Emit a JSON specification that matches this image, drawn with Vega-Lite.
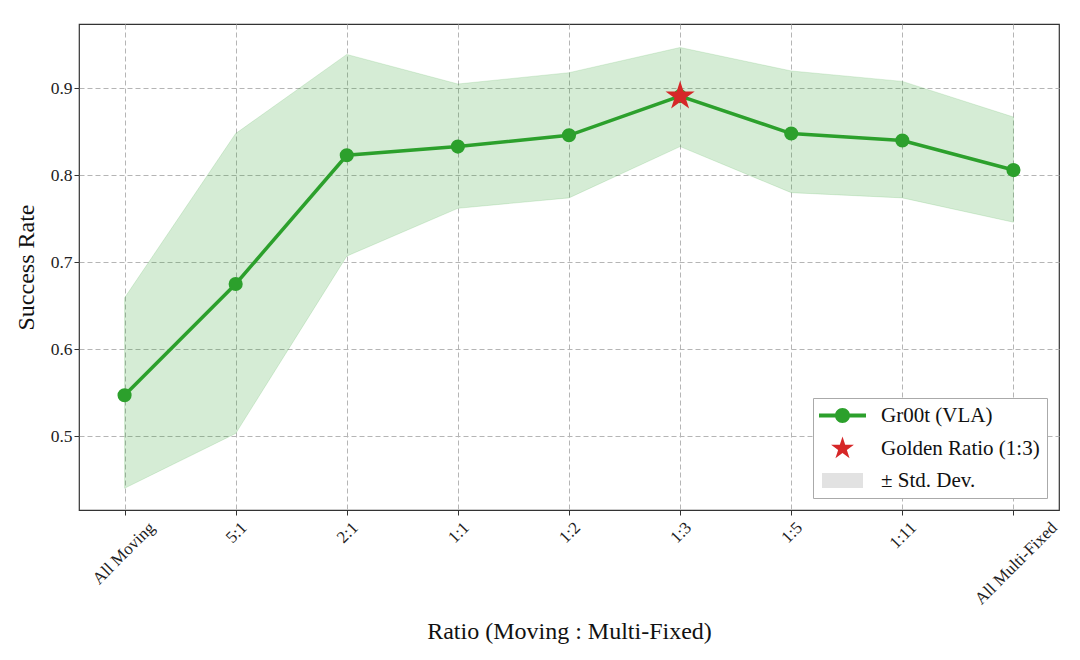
{
  "$schema": "https://vega.github.io/schema/vega-lite/v6.json",
  "autosize": "none",
  "width": 980,
  "height": 486,
  "padding": {"left": 79, "top": 24, "right": 21, "bottom": 150},
  "background": "white",
  "data": {
    "values": [
      {"ratio": "All Moving", "mean": 0.547, "lower": 0.44, "upper": 0.659, "golden": false},
      {"ratio": "5:1", "mean": 0.675, "lower": 0.503, "upper": 0.848, "golden": false},
      {"ratio": "2:1", "mean": 0.823, "lower": 0.707, "upper": 0.939, "golden": false},
      {"ratio": "1:1", "mean": 0.833, "lower": 0.762, "upper": 0.905, "golden": false},
      {"ratio": "1:2", "mean": 0.846, "lower": 0.774, "upper": 0.918, "golden": false},
      {"ratio": "1:3", "mean": 0.891, "lower": 0.833, "upper": 0.947, "golden": true},
      {"ratio": "1:5", "mean": 0.848, "lower": 0.78, "upper": 0.92, "golden": false},
      {"ratio": "1:11", "mean": 0.84, "lower": 0.774, "upper": 0.908, "golden": false},
      {"ratio": "All Multi-Fixed", "mean": 0.806, "lower": 0.746, "upper": 0.867, "golden": false}
    ]
  },
  "encoding": {
    "x": {
      "field": "ratio",
      "type": "ordinal",
      "sort": null,
      "scale": {"type": "point", "padding": 0.41},
      "axis": {
        "title": "Ratio (Moving : Multi-Fixed)",
        "titleY": 121,
        "titleBaseline": "middle",
        "labelAngle": -45,
        "labelAlign": "right",
        "labelBaseline": "top",
        "labelPadding": 4,
        "labelFontSize": 17,
        "labelOffset": {"expr": "0.354*(length(datum.label)*7.65 - 16)"}
      }
    },
    "y": {
      "field": "mean",
      "type": "quantitative",
      "scale": {"domain": [0.415, 0.974], "nice": false, "zero": false},
      "axis": {
        "title": "Success Rate",
        "values": [0.5, 0.6, 0.7, 0.8, 0.9],
        "format": ".1f",
        "titleX": -53,
        "titleBaseline": "middle",
        "labelFontSize": 17.5
      }
    }
  },
  "layer": [
    {
      "mark": {"type": "area", "color": "#2ca02c", "fillOpacity": 0.2, "stroke": "#2ca02c", "strokeOpacity": 0.15, "strokeWidth": 1},
      "encoding": {
        "y": {"field": "lower", "type": "quantitative"},
        "y2": {"field": "upper"}
      }
    },
    {
      "mark": {"type": "line", "strokeWidth": 3.5},
      "encoding": {
        "color": {
          "datum": "Gr00t (VLA)",
          "scale": {
            "domain": ["Gr00t (VLA)", "Golden Ratio (1:3)", "± Std. Dev."],
            "range": ["#2ca02c", "#d62728", "#e2e2e2"]
          },
          "legend": {
            "title": null,
            "encode": {
              "symbols": {
                "update": {
                  "shape": {"signal": "datum.value === 'Gr00t (VLA)' ? 'M-2.35,-0.2H-0.7V0.2H-2.35Z M0.7,-0.2H2.35V0.2H0.7Z M-0.75,0A0.75,0.75 0 1,1 0.75,0A0.75,0.75 0 1,1 -0.75,0Z' : datum.value === 'Golden Ratio (1:3)' ? 'M0,-1.2L0.27,-0.371L1.141,-0.371L0.436,0.142L0.706,0.971L0,0.458L-0.706,0.971L-0.436,0.142L-1.141,-0.371L-0.27,-0.371Z' : 'M-2.05,-0.75H2.05V0.75H-2.05Z'"},
                  "fill": {"signal": "datum.value === 'Gr00t (VLA)' ? '#2ca02c' : datum.value === 'Golden Ratio (1:3)' ? '#d62728' : '#e2e2e2'"},
                  "stroke": {"value": "transparent"},
                  "strokeWidth": {"value": 0},
                  "size": {"value": 400},
                  "opacity": {"value": 1},
                  "fillOpacity": {"value": 1}
                }
              }
            }
          }
        }
      }
    },
    {
      "mark": {"type": "point", "shape": "circle", "filled": true, "size": 200, "opacity": 1},
      "encoding": {"color": {"datum": "Gr00t (VLA)"}}
    },
    {
      "transform": [{"filter": "datum.golden"}],
      "mark": {
        "type": "point",
        "shape": "M0,-1L0.225,-0.309L0.951,-0.309L0.363,0.118L0.588,0.809L0,0.382L-0.588,0.809L-0.363,0.118L-0.951,-0.309L-0.225,-0.309Z",
        "filled": true,
        "size": 940,
        "opacity": 1
      },
      "encoding": {"color": {"datum": "Golden Ratio (1:3)"}}
    }
  ],
  "resolve": {"scale": {"color": "shared"}},
  "config": {
    "font": "Liberation Serif",
    "view": {"stroke": "#333333", "strokeWidth": 1.2},
    "axis": {
      "domain": false,
      "grid": true,
      "gridColor": "#b5b5b5",
      "gridDash": [5, 3],
      "gridWidth": 1,
      "tickColor": "#333333",
      "tickSize": 5,
      "labelFont": "Liberation Serif",
      "labelColor": "#222222",
      "titleFont": "Liberation Serif",
      "titleFontSize": 24,
      "titleFontWeight": "normal",
      "titleColor": "#111111"
    },
    "legend": {
      "orient": "bottom-right",
      "offset": 12,
      "padding": 7,
      "rowPadding": 10,
      "symbolSize": 400,
      "symbolOffset": 12,
      "labelOffset": 28,
      "labelFont": "Liberation Serif",
      "labelFontSize": 21,
      "labelColor": "#111111",
      "labelLimit": 300,
      "strokeColor": "#aaaaaa",
      "fillColor": "white"
    }
  }
}
